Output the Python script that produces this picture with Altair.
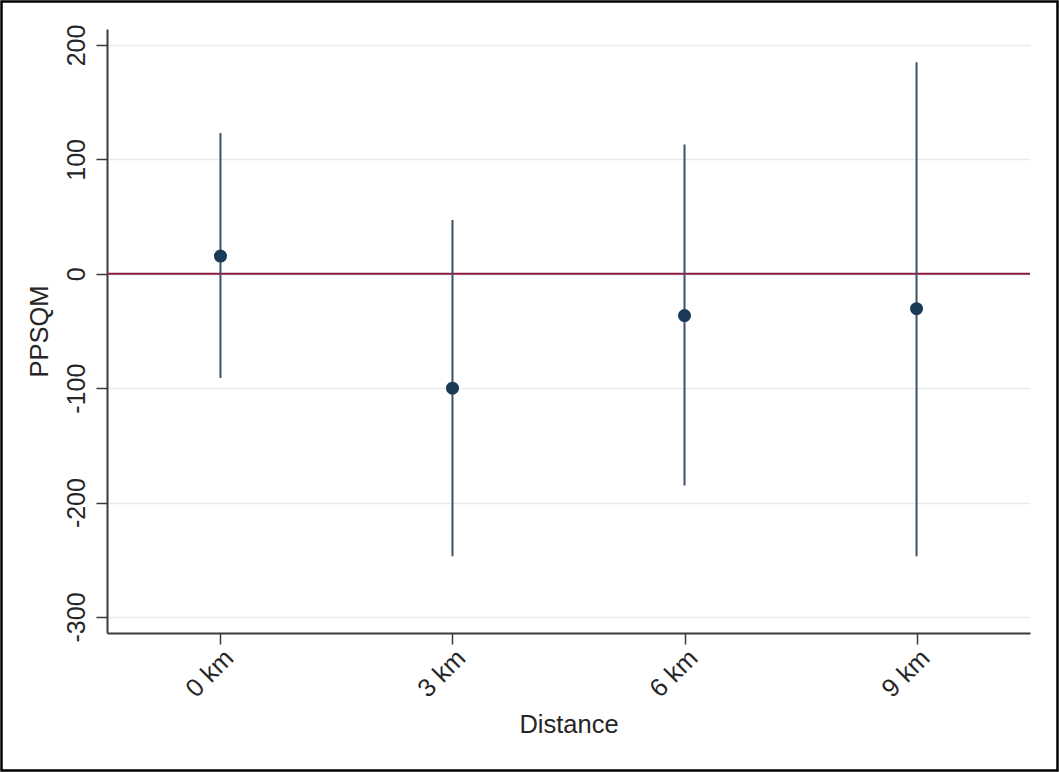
import altair as alt
import pandas as pd

# Data
distance = ["0 km", "3 km", "6 km", "9 km"]
estimate = [15.5, -100, -36.5, -30.5]
ci_low = [-91, -247, -185, -247]
ci_high = [123, 47, 113, 185]
y_ticks = [-300, -200, -100, 0, 100, 200]
ref_line = [0]

df = pd.DataFrame({"Distance": distance, "est": estimate, "lo": ci_low, "hi": ci_high})
ref_df = pd.DataFrame({"v": ref_line})

W, H = 923, 604
FONT = "Liberation Sans"

xenc = alt.X(
    "Distance:N",
    sort=distance,
    scale=alt.Scale(type="point", padding=0.489),
    axis=alt.Axis(
        title="Distance",
        labelAngle=315,
        labelAlign="right",
        labelBaseline="top",
        labelPadding=1,
        labelFontSize=25.5,
        tickSize=11,
        titlePadding=10,
        grid=False,
    ),
)
yscale = alt.Scale(domain=[-314, 214], nice=False, zero=False)
yaxis = alt.Axis(
    title="PPSQM",
    values=y_ticks,
    labelExpr="toString(datum.value)",
    labelAngle=270,
    labelAlign="center",
    labelBaseline="alphabetic",
    labelPadding=12,
    tickSize=11,
    titlePadding=12,
    grid=True,
    gridColor="#e6eded",
    gridWidth=1.5,
)

base = alt.Chart(df)

zero = alt.Chart(ref_df).mark_rule(color="#8e1b3f", strokeWidth=2).encode(
    y=alt.Y("v:Q", scale=yscale, axis=yaxis)
)

bars = base.mark_rule(color="#3d5064", strokeWidth=2).encode(
    x=xenc,
    y=alt.Y("lo:Q", scale=yscale, axis=yaxis),
    y2="hi:Q",
)

points = base.mark_circle(color="#1b3a58", opacity=1, size=170).encode(
    x=xenc,
    y=alt.Y("est:Q", scale=yscale, axis=yaxis),
)

frame = alt.Chart(ref_df).mark_rect(
    fill=None, fillOpacity=0, stroke="#000000", strokeWidth=2.5
).encode(
    x=alt.value(-105.5),
    x2=alt.value(W + 27.5),
    y=alt.value(-27.5),
    y2=alt.value(H + 137.5),
)

chart = (
    alt.layer(zero, bars, points, frame)
    .properties(
        width=W,
        height=H,
        autosize=alt.AutoSizeParams(type="none"),
        padding={"left": 107, "top": 29, "right": 29, "bottom": 139},
        background="white",
    )
    .configure_view(stroke=None)
    .configure_axis(
        labelFont=FONT,
        titleFont=FONT,
        labelFontSize=25,
        titleFontSize=25.5,
        titleFontWeight="normal",
        labelColor="#262626",
        titleColor="#262626",
        domainColor="#3a3a3a",
        domainWidth=2,
        tickColor="#3a3a3a",
        tickWidth=1.5,
    )
)

chart.save("out.html", embed_options={"renderer": "svg", "actions": False})
